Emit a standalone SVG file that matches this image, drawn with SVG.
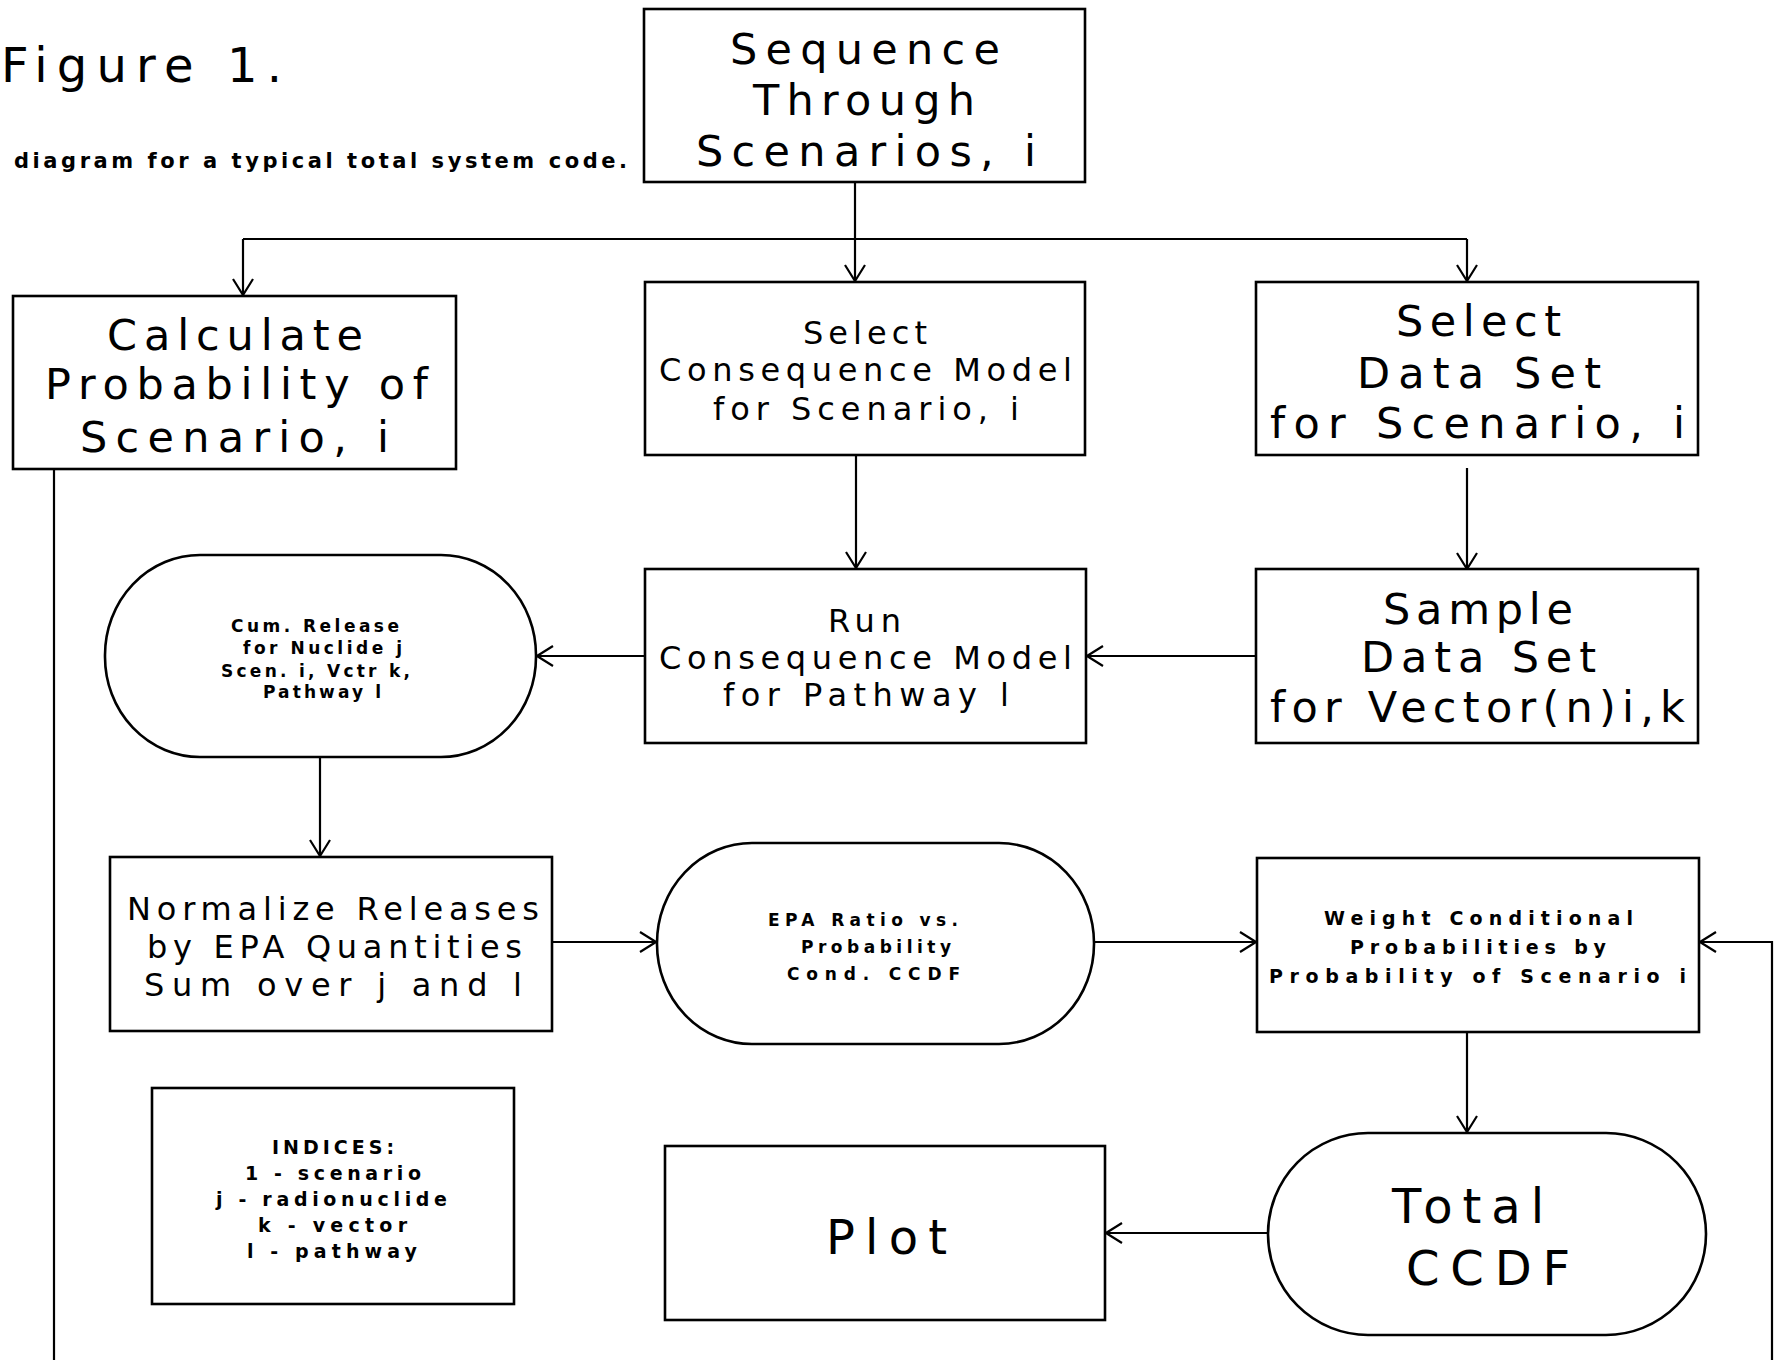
<svg xmlns="http://www.w3.org/2000/svg" width="1774" height="1360" viewBox="0 0 1774 1360">
<defs>
<style>
.bg{fill:#fff}
.box{fill:none;stroke:#000;stroke-width:2.6}
.ln{fill:none;stroke:#000;stroke-width:2.2}
.t{font-family:"DejaVu Sans","Liberation Sans",Arial,sans-serif;fill:#000}
.big{font-size:43px}
.med{font-size:32px}
.huge{font-size:48px}
.sm{font-size:17px;font-weight:bold}
.sm2{font-size:19px;font-weight:bold}
</style>
<marker id="ah" viewBox="0 0 18 22" refX="18" refY="11" markerWidth="18" markerHeight="22" markerUnits="userSpaceOnUse" orient="auto">
<path d="M1,1 L17,11 L1,21" fill="none" stroke="#000" stroke-width="2.2"/>
</marker>
</defs>
<rect class="bg" x="0" y="0" width="1774" height="1360"/>

<g id="title">
<text class="t" x="1" y="82" font-size="48" textLength="281" lengthAdjust="spacing">Figure 1.</text>
<text class="t" x="14" y="168" font-size="21" font-weight="bold" textLength="613" lengthAdjust="spacing">diagram for a typical total system code.</text>
</g>

<g id="connectors">
<path class="ln" d="M855,182 L855,282" marker-end="url(#ah)"/>
<path class="ln" d="M243,239 L1467,239"/>
<path class="ln" d="M243,239 L243,296" marker-end="url(#ah)"/>
<path class="ln" d="M1467,239 L1467,282" marker-end="url(#ah)"/>
<path class="ln" d="M856,455 L856,569" marker-end="url(#ah)"/>
<path class="ln" d="M1467,468 L1467,570" marker-end="url(#ah)"/>
<path class="ln" d="M1256,656 L1086,656" marker-end="url(#ah)"/>
<path class="ln" d="M645,656 L536,656" marker-end="url(#ah)"/>
<path class="ln" d="M320,757 L320,857" marker-end="url(#ah)"/>
<path class="ln" d="M552,942 L657,942" marker-end="url(#ah)"/>
<path class="ln" d="M1094,942 L1257,942" marker-end="url(#ah)"/>
<path class="ln" d="M1772,1360 L1772,942 L1699,942" marker-end="url(#ah)"/>
<path class="ln" d="M54,469 L54,1360"/>
<path class="ln" d="M1467,1032 L1467,1133" marker-end="url(#ah)"/>
<path class="ln" d="M1268,1233 L1105,1233" marker-end="url(#ah)"/>
</g>

<g id="sequence">
<rect class="box" x="644" y="9" width="441" height="173"/>
<text class="t big" x="730" y="64" textLength="270" lengthAdjust="spacing">Sequence</text>
<text class="t big" x="753" y="115" textLength="222" lengthAdjust="spacing">Through</text>
<text class="t big" x="696" y="166" textLength="340" lengthAdjust="spacing">Scenarios, i</text>
</g>

<g id="calculate">
<rect class="box" x="13" y="296" width="443" height="173"/>
<text class="t big" x="107" y="350" textLength="256" lengthAdjust="spacing">Calculate</text>
<text class="t big" x="45" y="399" textLength="383" lengthAdjust="spacing">Probability of</text>
<text class="t big" x="80" y="452" textLength="309" lengthAdjust="spacing">Scenario, i</text>
</g>

<g id="select-model">
<rect class="box" x="645" y="282" width="440" height="173"/>
<text class="t med" x="803" y="344" textLength="124" lengthAdjust="spacing">Select</text>
<text class="t med" x="659" y="381" textLength="413" lengthAdjust="spacing">Consequence Model</text>
<text class="t med" x="713" y="420" textLength="306" lengthAdjust="spacing">for Scenario, i</text>
</g>

<g id="select-data">
<rect class="box" x="1256" y="282" width="442" height="173"/>
<text class="t big" x="1396" y="336" textLength="165" lengthAdjust="spacing">Select</text>
<text class="t big" x="1357" y="388" textLength="244" lengthAdjust="spacing">Data Set</text>
<text class="t big" x="1270" y="438" textLength="415" lengthAdjust="spacing">for Scenario, i</text>
</g>

<g id="cum-release">
<rect class="box" x="105" y="555" width="431" height="202" rx="95" ry="100"/>
<text class="t sm" x="231" y="632" textLength="168" lengthAdjust="spacing">Cum. Release</text>
<text class="t sm" x="243" y="654" textLength="159" lengthAdjust="spacing">for Nuclide j</text>
<text class="t sm" x="221" y="677" textLength="189" lengthAdjust="spacing">Scen. i, Vctr k,</text>
<text class="t sm" x="263" y="698" textLength="118" lengthAdjust="spacing">Pathway l</text>
</g>

<g id="run-model">
<rect class="box" x="645" y="569" width="441" height="174"/>
<text class="t med" x="828" y="632" textLength="73" lengthAdjust="spacing">Run</text>
<text class="t med" x="659" y="669" textLength="413" lengthAdjust="spacing">Consequence Model</text>
<text class="t med" x="723" y="706" textLength="286" lengthAdjust="spacing">for Pathway l</text>
</g>

<g id="sample-data">
<rect class="box" x="1256" y="569" width="442" height="174"/>
<text class="t big" x="1383" y="624" textLength="190" lengthAdjust="spacing">Sample</text>
<text class="t big" x="1361" y="672" textLength="235" lengthAdjust="spacing">Data Set</text>
<text class="t big" x="1270" y="722" textLength="415" lengthAdjust="spacing">for Vector(n)i,k</text>
</g>

<g id="normalize">
<rect class="box" x="110" y="857" width="442" height="174"/>
<text class="t med" x="127" y="920" textLength="412" lengthAdjust="spacing">Normalize Releases</text>
<text class="t med" x="147" y="958" textLength="375" lengthAdjust="spacing">by EPA Quantities</text>
<text class="t med" x="144" y="996" textLength="378" lengthAdjust="spacing">Sum over j and l</text>
</g>

<g id="epa-ratio">
<rect class="box" x="657" y="843" width="437" height="201" rx="95" ry="100"/>
<text class="t sm" x="768" y="926" textLength="190" lengthAdjust="spacing">EPA Ratio vs.</text>
<text class="t sm" x="801" y="953" textLength="150" lengthAdjust="spacing">Probability</text>
<text class="t sm" x="787" y="980" textLength="173" lengthAdjust="spacing">Cond. CCDF</text>
</g>

<g id="weight">
<rect class="box" x="1257" y="858" width="442" height="174"/>
<text class="t sm2" x="1324" y="925" textLength="309" lengthAdjust="spacing">Weight Conditional</text>
<text class="t sm2" x="1350" y="954" textLength="256" lengthAdjust="spacing">Probabilities by</text>
<text class="t sm2" x="1269" y="983" textLength="417" lengthAdjust="spacing">Probability of Scenario i</text>
</g>

<g id="indices">
<rect class="box" x="152" y="1088" width="362" height="216"/>
<text class="t sm2" x="272" y="1154" textLength="122" lengthAdjust="spacing">INDICES:</text>
<text class="t sm2" x="245" y="1180" textLength="176" lengthAdjust="spacing">1 - scenario</text>
<text class="t sm2" x="216" y="1206" textLength="231" lengthAdjust="spacing">j - radionuclide</text>
<text class="t sm2" x="258" y="1232" textLength="149" lengthAdjust="spacing">k - vector</text>
<text class="t sm2" x="247" y="1258" textLength="170" lengthAdjust="spacing">l - pathway</text>
</g>

<g id="total-ccdf">
<rect class="box" x="1268" y="1133" width="438" height="202" rx="100" ry="101"/>
<text class="t huge" x="1392" y="1223" textLength="152" lengthAdjust="spacing">Total</text>
<text class="t huge" x="1406" y="1285" textLength="164" lengthAdjust="spacing">CCDF</text>
</g>

<g id="plot">
<rect class="box" x="665" y="1146" width="440" height="174"/>
<text class="t huge" x="826" y="1254" textLength="121" lengthAdjust="spacing">Plot</text>
</g>
</svg>
